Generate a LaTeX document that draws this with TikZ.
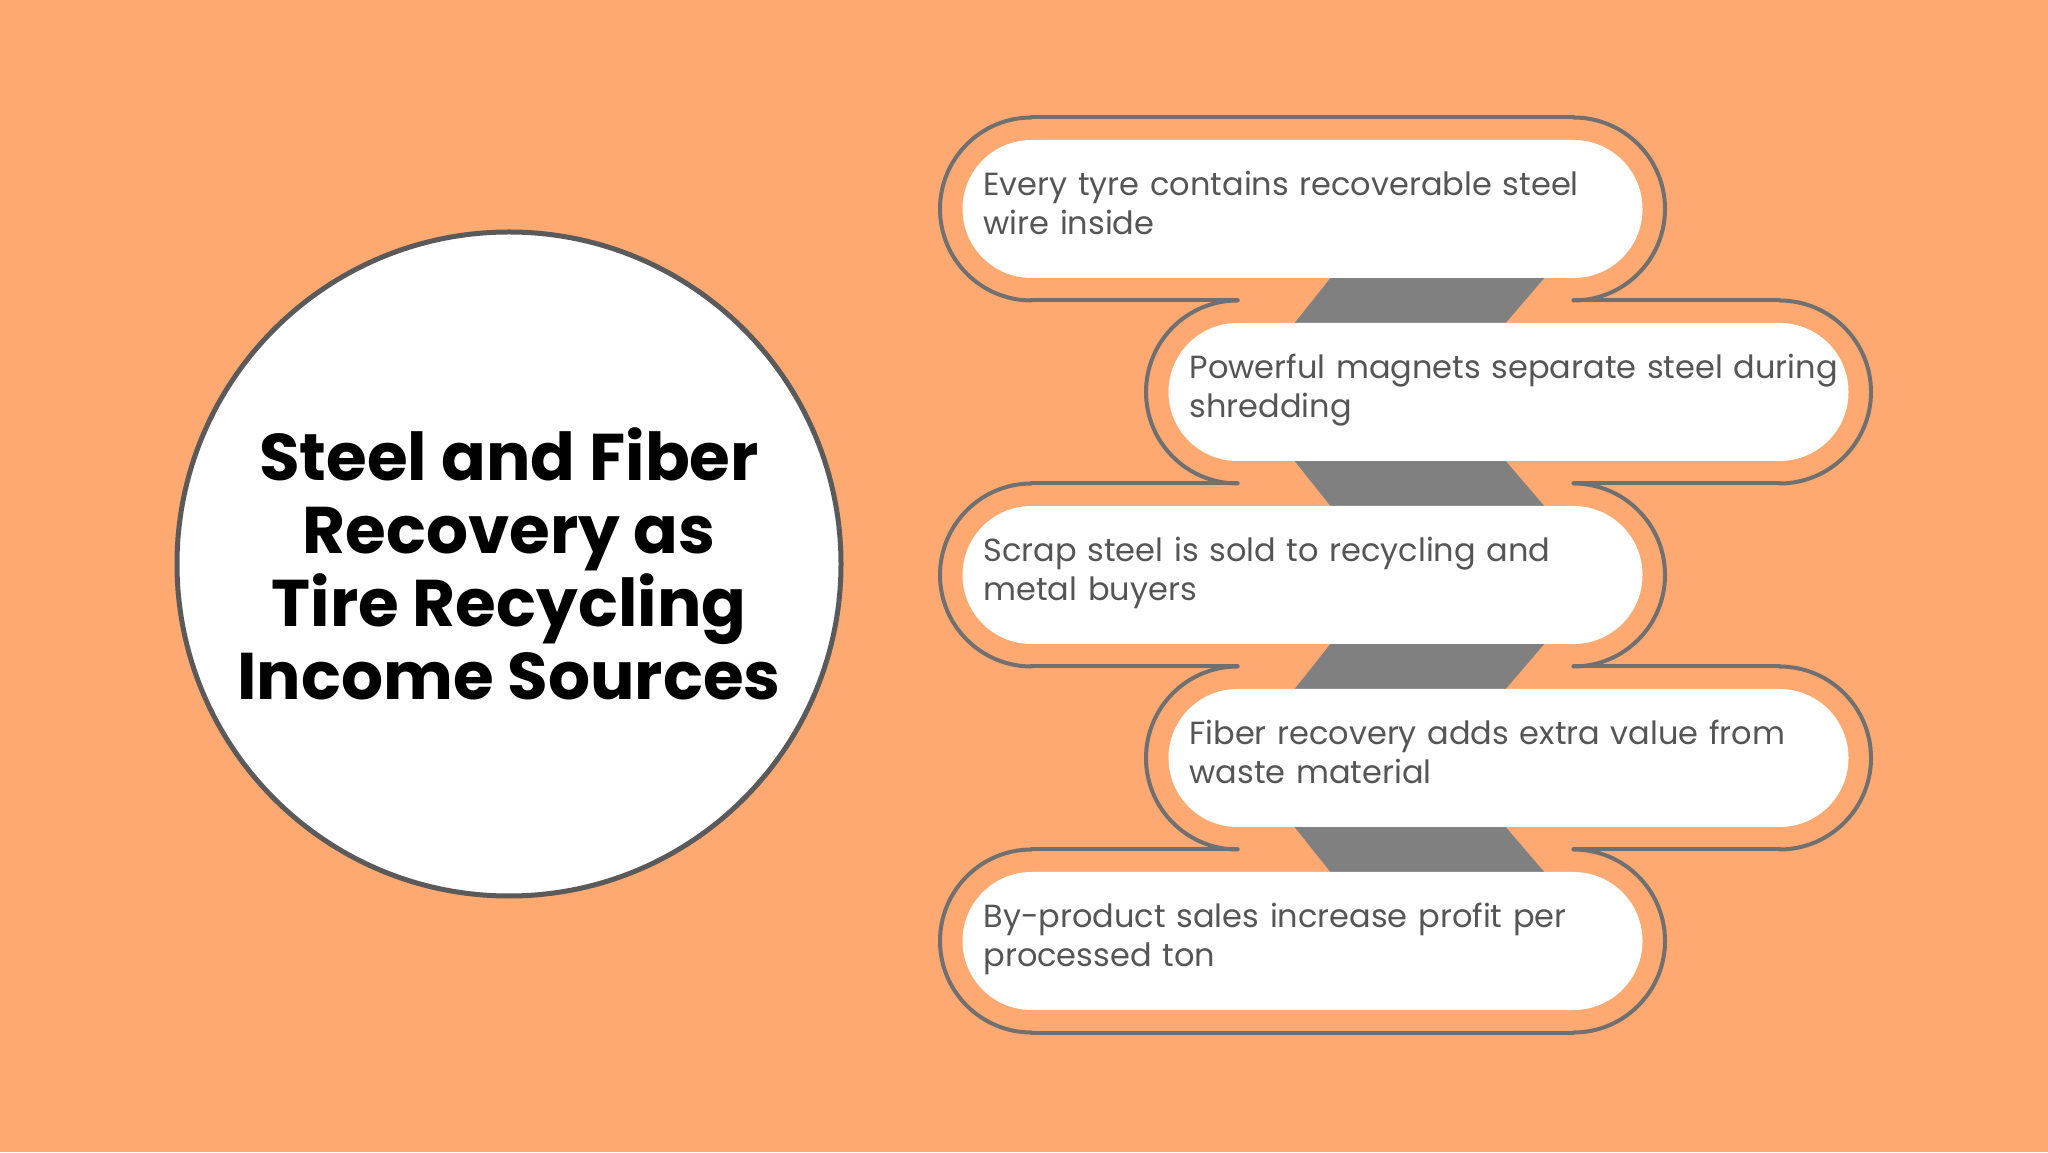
\documentclass[tikz,border=0pt]{standalone}
\usepackage{fontspec}
\setmainfont{Poppins}
\definecolor{peach}{HTML}{FFA972}
\definecolor{rimgray}{HTML}{707070}
\definecolor{ringgray}{HTML}{5A5A5A}
\definecolor{band}{HTML}{808080}
\definecolor{ink}{HTML}{555555}
\usetikzlibrary{calc}
\pgfdeclarelayer{canvas}
\pgfdeclarelayer{back}
\pgfsetlayers{canvas,back,main}
\tikzset{
  pill/.style={fill=white,rounded corners=69pt,minimum width=680pt,minimum height=138pt,
               text width=638pt,inner xsep=21pt,inner ysep=0pt,outer sep=0pt,align=left,
               text height=24pt,text depth=51pt,text=ink,font=\fontsize{32}{39}\selectfont},
  hub/.style={circle,draw=ringgray,line width=5pt,fill=white,minimum size=664pt,
              align=center,font=\fontsize{66}{73}\selectfont\bfseries},
  rim/.style={draw=rimgray,line width=4pt,line cap=round},
  link/.style={fill=band}
}

\begin{document}
\begin{tikzpicture}[x=1pt,y=1pt]
  \begin{pgfonlayer}{canvas}
    \fill[peach] (0,0) rectangle (2048,1152);
  \end{pgfonlayer}
  \node[hub] (hub) at (509,588) {Steel and Fiber\\Recovery as\\Tire Recycling\\Income Sources};
  \node[pill] (p1) at (1302.5,943) {Every tyre contains recoverable steel\\wire inside};
  \node[pill] (p2) at (1508.5,760) {\mbox{Powerful magnets separate steel during}\\shredding};
  \node[pill] (p3) at (1302.5,577) {Scrap steel is sold to recycling and\\metal buyers};
  \node[pill] (p4) at (1508.5,394) {Fiber recovery adds extra value from\\waste material};
  \node[pill] (p5) at (1302.5,211) {By-product sales increase profit per\\processed ton};
  % grey bands behind the pills
  \begin{pgfonlayer}{back}
    \foreach \a/\b in {p1/p2,p3/p4}
      \fill[link] ($(\a.south)+(29.5,2)$) -- ($(\a.south)+(243.5,2)$) -- ($(\b.north)+(-4.5,-2)$) -- ($(\b.north)+(-215.5,-2)$) -- cycle;
    \foreach \a/\b in {p2/p3,p4/p5}
      \fill[link] ($(\a.south)+(-215.5,2)$) -- ($(\a.south)+(-4.5,2)$) -- ($(\b.north)+(243.5,-2)$) -- ($(\b.north)+(29.5,-2)$) -- cycle;
  \end{pgfonlayer}
  % outer rim
  \foreach \p in {p1,p2,p3,p4,p5}{
    \draw[rim] ($(\p.north west)+(69,22.5)$) arc[start angle=90,end angle=270,radius=91.5];
    \draw[rim] ($(\p.north east)+(-69,22.5)$) arc[start angle=90,end angle=-90,radius=91.5];
  }
  \foreach \a/\b in {p1/p2,p2/p3,p3/p4,p4/p5}{
    \draw[rim] ($(\a.south west)+(69,-22.5)$) -- ($(\b.north west)+(69,22.5)$);
    \draw[rim] ($(\a.south east)+(-69,-22.5)$) -- ($(\b.north east)+(-69,22.5)$);
  }
  \draw[rim] ($(p1.north west)+(69,22.5)$) -- ($(p1.north east)+(-69,22.5)$);
  \draw[rim] ($(p5.south west)+(69,-22.5)$) -- ($(p5.south east)+(-69,-22.5)$);
\end{tikzpicture}
\end{document}
